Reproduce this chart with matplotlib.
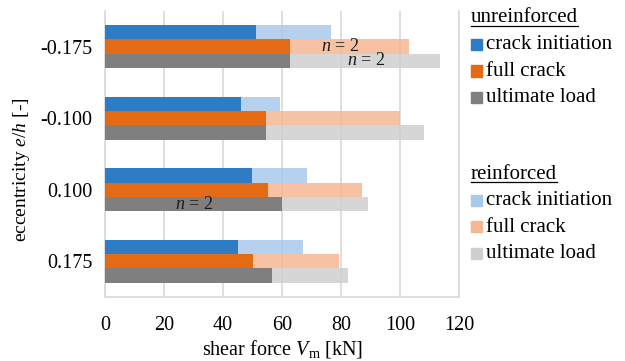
import numpy as np
import matplotlib
matplotlib.use("Agg")
import matplotlib.pyplot as plt
from matplotlib.patches import Rectangle
from matplotlib.lines import Line2D

plt.rcParams['font.family'] = ['Liberation Serif', 'DejaVu Serif']
plt.rcParams['mathtext.fontset'] = 'custom'
plt.rcParams['mathtext.rm'] = 'Liberation Serif'
plt.rcParams['mathtext.it'] = 'Liberation Serif:italic'

ecc = ['-0.175', '-0.100', '0.100', '0.175']
stages = ['crack initiation', 'full crack', 'ultimate load']

# unreinforced values [kN]
unreinf = {
    'crack initiation': [51.2, 46.2, 49.8, 45.0],
    'full crack':       [62.8, 54.5, 55.1, 50.2],
    'ultimate load':    [62.8, 54.5, 59.8, 56.5],
}
# reinforced values [kN]
reinf = {
    'crack initiation': [76.5, 59.2, 68.3, 67.0],
    'full crack':       [103.1, 100.0, 87.0, 79.4],
    'ultimate load':    [113.6, 107.9, 89.0, 82.2],
}
dark = {'crack initiation': '#2E7CC4', 'full crack': '#E56A14', 'ultimate load': '#7F7F7F'}
light = {'crack initiation': '#A9C9EA', 'full crack': '#F5B893', 'ultimate load': '#CFCFCF'}

FS = 14.5

fig = plt.figure(figsize=(6.25, 3.61), dpi=100)
ax = fig.add_axes([0.168, 0.177, 0.567, 0.793])

y = np.arange(len(ecc))
h = 0.2
offs = [-h, 0, h]
for s, o in zip(stages, offs):
    ax.barh(y + o, reinf[s], height=h, color=light[s], alpha=0.85, zorder=2)
    ax.barh(y + o, unreinf[s], height=h, color=dark[s], zorder=3)

# sample counts
for xv, yv in [(79.7, 0), (88.5, 0 + h), (30, 2 + h)]:
    ax.text(xv, yv, '$n$ = 2', ha='center', va='center', fontsize=13,
            color='#1a1a1a', zorder=4)

ax.set_xlim(0, 120)
ax.set_ylim(3.5, -0.5)
ax.set_xticks(np.arange(0, 121, 20))
ax.set_yticks(y)
ax.set_yticklabels(ecc)
ax.tick_params(axis='both', length=0, labelsize=FS)
ax.tick_params(axis='x', pad=13.5)
ax.tick_params(axis='y', pad=9)
ax.set_axisbelow(True)
ax.grid(axis='x', color='#D9D9D9', linewidth=1.2)
for sp in ax.spines.values():
    sp.set_color('#D9D9D9')
    sp.set_linewidth(1.2)
ax.spines['top'].set_visible(False)

ax.set_xlabel('shear force $V_\\mathrm{m}$ [kN]', fontsize=FS, labelpad=2.5)
ax.set_ylabel('eccentricity $e/h$ [-]', fontsize=14)
ax.yaxis.set_label_coords(-0.205, 0.445)

# legend
W, H = 625, 361
def legend_block(title, colors, ytop):
    t = fig.text(471 / W, 1 - ytop / H, title, fontsize=FS + 0.5, va='center', ha='left')
    fig.canvas.draw()
    bb = t.get_window_extent()
    fig.add_artist(Line2D([bb.x0 / W, bb.x1 / W], [(bb.y0 + 2) / H, (bb.y0 + 2) / H],
                          color='black', linewidth=0.9, transform=fig.transFigure))
    for i, s in enumerate(stages):
        yc = ytop + 26.5 * (i + 1)
        fig.add_artist(Rectangle((471 / W, 1 - (yc + 5.5) / H), 11 / W, 11 / H,
                                 color=colors[s], transform=fig.transFigure))
        fig.text(486 / W, 1 - yc / H, s, fontsize=FS + 0.5, va='center', ha='left')

legend_block('unreinforced', dark, 18)
legend_block('reinforced', light, 174)

fig.savefig('out.png', dpi=100)
